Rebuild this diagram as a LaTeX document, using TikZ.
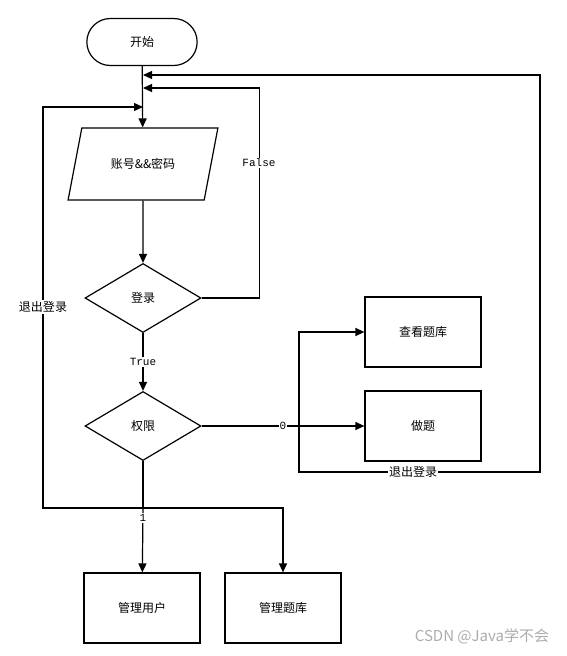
\documentclass[tikz,border=0pt]{standalone}
\usepackage{fontspec}
\setmainfont{Noto Sans CJK SC}
\setmonofont{Liberation Mono}
\usetikzlibrary{shapes.geometric,shapes.misc,arrows.meta}

\begin{document}
\begin{tikzpicture}[x=1pt,y=-1pt,line width=1.2pt,
  >={Triangle[length=9pt,width=8pt]},
  font=\fontsize{12}{14}\selectfont,
  box/.style={draw,rectangle,minimum width=116pt,minimum height=70pt},
  decide/.style={draw,diamond,minimum width=116pt,minimum height=69pt,inner sep=0pt},
  lbl/.style={fill=white,inner sep=1pt,font=\ttfamily\fontsize{11}{11}\selectfont},
  cnlbl/.style={fill=white,inner sep=1pt}]
\useasboundingbox (0,0) rectangle (567,656);
%
\node[draw,rounded rectangle,minimum width=117pt,minimum height=47pt] (start) at (142,42) {开始};
\node[draw,trapezium,trapezium left angle=66,trapezium right angle=114,trapezium stretches,
  minimum width=150pt,minimum height=72pt] (input) at (143,164) {账号\&\&密码};
\node[decide] (login) at (143,298) {登录};
\node[decide] (role) at (143,426) {权限};
\node[box] (view) at (423,332) {查看题库};
\node[box] (exam) at (423,426) {做题};
\node[box] (users) at (142,608) {管理用户};
\node[box] (bank) at (283,608) {管理题库};
%
% points where the loops come back into the main line
\coordinate (back1) at (143,75);
\coordinate (back2) at (143,88);
\coordinate (back3) at (143,107);
\coordinate (split) at (299,426);
\coordinate (join) at (143,508);
%
\draw[->] (start) -- (input);
\draw[->] (input) -- (login);
\draw[->] (login.east) -- ++(58,0) |- (back2);
\node[lbl] (lfalse) at (259,163) {False};
\draw[->] (login) -- node[lbl] (ltrue) {True} (role);
\draw[->] (role.east) -- node[lbl] (lzero) {0} (exam.west);
\draw[->] (split) |- (view.west);
% logout from the user side
\draw[->] (split) -- ++(0,46) -| (540,75) -- (back1);
\node[cnlbl] (lout1) at (413,472) {退出登录};
%
\draw (role) -- (join);
\draw[->] (join) -- (users);
\node[lbl] (lone) at (143,518) {1};
\draw[->] (join) -| (bank);
% logout from the admin side
\draw[->] (join) -- (43,508) |- (back3);
\node[cnlbl] (lout2) at (43,307) {退出登录};
%
\node[text=gray!65,font=\fontsize{15}{15}\selectfont,anchor=east] (mark) at (553,636) {CSDN @Java学不会};
\end{tikzpicture}
\end{document}
